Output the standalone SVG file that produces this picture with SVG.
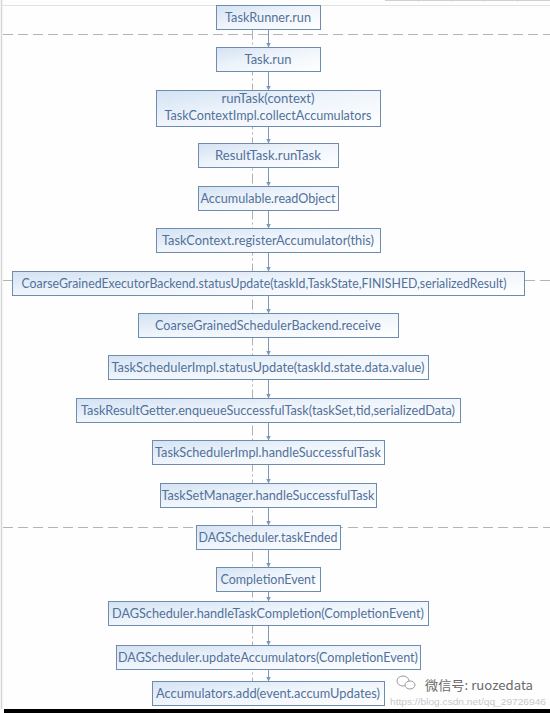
<svg xmlns="http://www.w3.org/2000/svg" width="550" height="713" viewBox="0 0 550 713">
  <defs>
    <linearGradient id="boxfill" x1="0" y1="0" x2="1" y2="1">
      <stop offset="0" stop-color="#d3e2f3"/>
      <stop offset="0.45" stop-color="#eef4fb"/>
      <stop offset="1" stop-color="#ffffff"/>
    </linearGradient>
    <marker id="arr" markerUnits="userSpaceOnUse" markerWidth="6" markerHeight="6" refX="5" refY="2.5" orient="auto">
      <path d="M0,0 L5,2.5 L0,5 z" fill="#7d98ba"/>
    </marker>
    <style>
      .box { fill: url(#boxfill); stroke: #6f8cae; stroke-width: 1; }
      .lbl { font-family: Lato, "Liberation Sans", sans-serif; font-size: 13.5px; fill: #52719a; text-anchor: middle; }
      .sm { font-size: 12.5px; }
      .conn { stroke: #7d98ba; stroke-width: 1; fill: none; }
      .sep { stroke: #b4b4b4; stroke-width: 1; stroke-dasharray: 10 5; fill: none; }
      .life { stroke: #b0b0b0; stroke-width: 1; stroke-dasharray: 10 3 2 3; fill: none; }
    </style>
  </defs>

  <rect x="0" y="0" width="550" height="713" fill="#fefefe"/>
  <g id="frame">
    <line x1="1.5" y1="0" x2="1.5" y2="709" stroke="#d6d6d6" stroke-width="1.5"/>
    <line x1="2" y1="5.5" x2="550" y2="5.5" stroke="#e2e2e2" stroke-width="1"/>
    <line x1="385" y1="0.5" x2="550" y2="0.5" stroke="#d0d0d0" stroke-width="1"/>
    <line x1="418.5" y1="0" x2="418.5" y2="1.5" stroke="#d0d0d0"/>
    <line x1="451.5" y1="0" x2="451.5" y2="1.5" stroke="#d0d0d0"/>
    <line x1="484.5" y1="0" x2="484.5" y2="1.5" stroke="#d0d0d0"/>
    <line x1="517.5" y1="0" x2="517.5" y2="1.5" stroke="#d0d0d0"/>
    <rect x="4" y="709" width="546" height="4" fill="#000000"/>
  </g>

  <g id="separators">
    <line class="sep" x1="3" y1="34.5" x2="550" y2="34.5"/>
    <line class="sep" x1="3" y1="280.5" x2="12" y2="280.5"/>
    <line class="sep" x1="525" y1="280.5" x2="550" y2="280.5"/>
    <line class="sep" x1="3" y1="527.5" x2="550" y2="527.5"/>
    <line class="life" x1="252.5" y1="29.5" x2="252.5" y2="709"/>
  </g>

  <g id="connectors">
    <line class="conn" x1="268.5" y1="29.5" x2="268.5" y2="47.5" marker-end="url(#arr)"/>
    <line class="conn" x1="268.5" y1="71.5" x2="268.5" y2="90.5" marker-end="url(#arr)"/>
    <line class="conn" x1="268.5" y1="126.5" x2="268.5" y2="143.5" marker-end="url(#arr)"/>
    <line class="conn" x1="268.5" y1="167.5" x2="268.5" y2="186.5" marker-end="url(#arr)"/>
    <line class="conn" x1="268.5" y1="210.5" x2="268.5" y2="228.5" marker-end="url(#arr)"/>
    <line class="conn" x1="268.5" y1="252.5" x2="268.5" y2="271.5" marker-end="url(#arr)"/>
    <line class="conn" x1="268.5" y1="295.5" x2="268.5" y2="313.5" marker-end="url(#arr)"/>
    <line class="conn" x1="268.5" y1="337.5" x2="268.5" y2="355.5" marker-end="url(#arr)"/>
    <line class="conn" x1="268.5" y1="379.5" x2="268.5" y2="398.5" marker-end="url(#arr)"/>
    <line class="conn" x1="268.5" y1="422.5" x2="268.5" y2="440.5" marker-end="url(#arr)"/>
    <line class="conn" x1="268.5" y1="464.5" x2="268.5" y2="483.5" marker-end="url(#arr)"/>
    <line class="conn" x1="268.5" y1="507.5" x2="268.5" y2="525.5" marker-end="url(#arr)"/>
    <line class="conn" x1="268.5" y1="549.5" x2="268.5" y2="567.5" marker-end="url(#arr)"/>
    <line class="conn" x1="268.5" y1="591.5" x2="268.5" y2="601.5" marker-end="url(#arr)"/>
    <line class="conn" x1="268.5" y1="625.5" x2="268.5" y2="645.5" marker-end="url(#arr)"/>
    <line class="conn" x1="268.5" y1="669.5" x2="268.5" y2="681.5" marker-end="url(#arr)"/>
  </g>

  <g id="n1"><rect class="box" x="216.5" y="5.5" width="104" height="24"/><text class="lbl" x="268" y="21.5" textLength="86" lengthAdjust="spacingAndGlyphs">TaskRunner.run</text></g>
  <g id="n2"><rect class="box" x="216.5" y="47.5" width="104" height="24"/><text class="lbl" x="268" y="63.5" textLength="47" lengthAdjust="spacingAndGlyphs">Task.run</text></g>
  <g id="n3"><rect class="box" x="156.5" y="90.5" width="224" height="36"/><text class="lbl" x="268" y="102.5" textLength="93" lengthAdjust="spacingAndGlyphs">runTask(context)</text><text class="lbl" x="268" y="120" textLength="207" lengthAdjust="spacingAndGlyphs">TaskContextImpl.collectAccumulators</text></g>
  <g id="n4"><rect class="box" x="198.5" y="143.5" width="140" height="24"/><text class="lbl" x="268" y="159.5" textLength="106" lengthAdjust="spacingAndGlyphs">ResultTask.runTask</text></g>
  <g id="n5"><rect class="box" x="198.5" y="186.5" width="140" height="24"/><text class="lbl" x="268" y="202.5" textLength="135" lengthAdjust="spacingAndGlyphs">Accumulable.readObject</text></g>
  <g id="n6"><rect class="box" x="156.5" y="228.5" width="224" height="24"/><text class="lbl" x="268" y="244.5" textLength="212" lengthAdjust="spacingAndGlyphs">TaskContext.registerAccumulator(this)</text></g>
  <g id="n7"><rect class="box" x="12.5" y="271.5" width="512" height="24"/><text class="lbl sm" x="264" y="287.5" textLength="485" lengthAdjust="spacingAndGlyphs">CoarseGrainedExecutorBackend.statusUpdate(taskId,TaskState,FINISHED,serializedResult)</text></g>
  <g id="n8"><rect class="box" x="138.5" y="313.5" width="260" height="24"/><text class="lbl" x="268" y="329.5" textLength="226" lengthAdjust="spacingAndGlyphs">CoarseGrainedSchedulerBackend.receive</text></g>
  <g id="n9"><rect class="box" x="108.5" y="355.5" width="320" height="24"/><text class="lbl" x="268" y="371.5" textLength="313" lengthAdjust="spacingAndGlyphs">TaskSchedulerImpl.statusUpdate(taskId.state.data.value)</text></g>
  <g id="n10"><rect class="box" x="76.5" y="398.5" width="384" height="24"/><text class="lbl" x="268" y="414.5" textLength="374" lengthAdjust="spacingAndGlyphs">TaskResultGetter.enqueueSuccessfulTask(taskSet,tid,serializedData)</text></g>
  <g id="n11"><rect class="box" x="152.5" y="440.5" width="232" height="24"/><text class="lbl" x="268" y="456.5" textLength="226" lengthAdjust="spacingAndGlyphs">TaskSchedulerImpl.handleSuccessfulTask</text></g>
  <g id="n12"><rect class="box" x="160.5" y="483.5" width="216" height="24"/><text class="lbl" x="268" y="499.5" textLength="213" lengthAdjust="spacingAndGlyphs">TaskSetManager.handleSuccessfulTask</text></g>
  <g id="n13"><rect class="box" x="196.5" y="525.5" width="144" height="24"/><text class="lbl" x="268" y="541.5" textLength="139" lengthAdjust="spacingAndGlyphs">DAGScheduler.taskEnded</text></g>
  <g id="n14"><rect class="box" x="216.5" y="567.5" width="104" height="24"/><text class="lbl" x="268" y="583.5" textLength="95" lengthAdjust="spacingAndGlyphs">CompletionEvent</text></g>
  <g id="n15"><rect class="box" x="108.5" y="601.5" width="320" height="24"/><text class="lbl" x="268" y="617.5" textLength="312" lengthAdjust="spacingAndGlyphs">DAGScheduler.handleTaskCompletion(CompletionEvent)</text></g>
  <g id="n16"><rect class="box" x="116.5" y="645.5" width="304" height="24"/><text class="lbl" x="268" y="661.5" textLength="300" lengthAdjust="spacingAndGlyphs">DAGScheduler.updateAccumulators(CompletionEvent)</text></g>
  <g id="n17"><rect class="box" x="152.5" y="681.5" width="232" height="24"/><text class="lbl" x="268" y="697.5" textLength="224" lengthAdjust="spacingAndGlyphs">Accumulators.add(event.accumUpdates)</text></g>

  <g id="watermark">
    <text x="390" y="705" font-family="'Liberation Sans', sans-serif" font-size="9" fill="#c8c8c8" textLength="156" lengthAdjust="spacingAndGlyphs">https://blog.csdn.net/qq_29726946</text>
    <ellipse cx="403" cy="681" rx="6" ry="5" fill="none" stroke="#9a9a9a" stroke-width="1"/>
    <ellipse cx="410" cy="685" rx="5" ry="4" fill="#ffffff" stroke="#9a9a9a" stroke-width="1"/>
    <text x="425" y="690" font-family="'Noto Sans CJK SC', 'Liberation Sans', sans-serif" font-size="13" fill="#6a6a6a" textLength="108" lengthAdjust="spacingAndGlyphs">微信号: ruozedata</text>
  </g>
</svg>
